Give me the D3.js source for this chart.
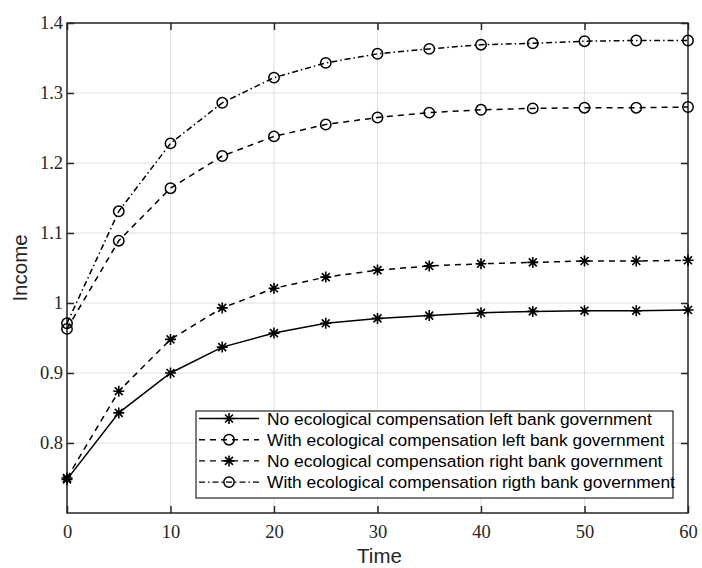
<!DOCTYPE html>
<html>
<head>
<meta charset="utf-8">
<script src="https://cdn.jsdelivr.net/npm/d3@7"></script>
<style>
  body { margin: 0; background: #fff; }
  .tick text { font-family: "Liberation Serif", "Times New Roman", serif; font-size: 18.5px; fill: #262626; }
</style>
</head>
<body>
<svg id="chart" width="702" height="568"></svg>
<script>
// time steps
const time = [0, 5, 10, 15, 20, 25, 30, 35, 40, 45, 50, 55, 60];

// income series
const noCompLeft = [0.748, 0.843, 0.900, 0.937, 0.957, 0.971, 0.978, 0.982, 0.986, 0.988, 0.989, 0.989, 0.990];
const withCompLeft = [0.963, 1.089, 1.164, 1.210, 1.238, 1.255, 1.265, 1.272, 1.276, 1.278, 1.279, 1.279, 1.280];
const noCompRight = [0.750, 0.874, 0.948, 0.993, 1.021, 1.037, 1.047, 1.053, 1.056, 1.058, 1.060, 1.060, 1.061];
const withCompRight = [0.971, 1.131, 1.228, 1.286, 1.322, 1.343, 1.356, 1.363, 1.369, 1.371, 1.374, 1.375, 1.375];

const seriesNames = [
  'No ecological compensation left bank government',
  'With ecological compensation left bank government',
  'No ecological compensation right bank government',
  'With ecological compensation rigth bank government'
];

const xTicks = [0, 10, 20, 30, 40, 50, 60];
const yTicks = [0.8, 0.9, 1.0, 1.1, 1.2, 1.3, 1.4];

const series = [
  { name: seriesNames[0], values: noCompLeft, dash: null, marker: 'star' },
  { name: seriesNames[1], values: withCompLeft, dash: '6,5', marker: 'circle' },
  { name: seriesNames[2], values: noCompRight, dash: '6,5', marker: 'star' },
  { name: seriesNames[3], values: withCompRight, dash: '6,3,1.5,3', marker: 'circle' }
];

const svg = d3.select('#chart');
const plotL = 67, plotR = 688, plotT = 23, plotB = 513;

const x = d3.scaleLinear().domain([0, 60]).range([plotL, plotR]);
const y = d3.scaleLinear().domain([0.7, 1.4]).range([plotB, plotT]);

// grid
const grid = svg.append('g');
grid.selectAll('.gx')
  .data(xTicks)
  .enter()
  .append('line')
  .attr('x1', d => x(d)).attr('x2', d => x(d))
  .attr('y1', plotT).attr('y2', plotB)
  .attr('stroke', '#dfdfdf').attr('stroke-width', 1);
grid.selectAll('.gy')
  .data(yTicks)
  .enter()
  .append('line')
  .attr('x1', plotL).attr('x2', plotR)
  .attr('y1', d => y(d)).attr('y2', d => y(d))
  .attr('stroke', '#dfdfdf').attr('stroke-width', 1);

// axes (MATLAB style, ticks inside, box on)
const fmt = d => d === 1 ? '1' : d3.format('.1f')(d);

svg.append('g')
  .attr('transform', `translate(0,${plotB})`)
  .call(d3.axisBottom(x).tickValues(xTicks).tickSize(-7).tickPadding(12).tickSizeOuter(0))
  .call(g => g.select('.domain').remove());
svg.append('g')
  .attr('transform', `translate(${plotL},0)`)
  .call(d3.axisLeft(y).tickValues(yTicks).tickFormat(fmt).tickSize(-7).tickPadding(4).tickSizeOuter(0))
  .call(g => g.select('.domain').remove());
svg.append('g')
  .attr('transform', `translate(0,${plotT})`)
  .call(d3.axisTop(x).tickValues(xTicks).tickSize(-7).tickFormat('').tickSizeOuter(0))
  .call(g => g.select('.domain').remove());
svg.append('g')
  .attr('transform', `translate(${plotR},0)`)
  .call(d3.axisRight(y).tickValues(yTicks).tickSize(-7).tickFormat('').tickSizeOuter(0))
  .call(g => g.select('.domain').remove());

svg.selectAll('.tick line').attr('stroke', '#262626').attr('stroke-width', 1.5);

svg.append('rect')
  .attr('x', plotL).attr('y', plotT)
  .attr('width', plotR - plotL).attr('height', plotB - plotT)
  .attr('fill', 'none').attr('stroke', '#262626').attr('stroke-width', 1.5);

// markers
function drawMarker(g, type, cx, cy) {
  if (type === 'circle') {
    g.append('circle')
      .attr('cx', cx).attr('cy', cy).attr('r', 5.2)
      .attr('fill', 'none').attr('stroke', '#000').attr('stroke-width', 1.5);
  } else {
    const r = 5.5, d = r * 0.72;
    const path = `M${cx - r},${cy}L${cx + r},${cy}M${cx},${cy - r}L${cx},${cy + r}` +
      `M${cx - d},${cy - d}L${cx + d},${cy + d}M${cx - d},${cy + d}L${cx + d},${cy - d}`;
    g.append('path').attr('d', path).attr('stroke', '#000').attr('stroke-width', 1.6);
  }
}

const line = d3.line().x((d, i) => x(time[i])).y(d => y(d));

series.forEach(s => {
  const g = svg.append('g');
  g.append('path')
    .attr('d', line(s.values))
    .attr('fill', 'none')
    .attr('stroke', '#000')
    .attr('stroke-width', 1.5)
    .attr('stroke-dasharray', s.dash);
  s.values.forEach((v, i) => drawMarker(g, s.marker, x(time[i]), y(v)));
});

// axis labels
svg.append('text')
  .attr('x', (plotL + plotR) / 2 + 2).attr('y', 563)
  .attr('text-anchor', 'middle')
  .attr('font-family', '"Liberation Sans", Arial, sans-serif')
  .attr('font-size', '20.5px').attr('fill', '#262626')
  .text('Time');
svg.append('text')
  .attr('transform', `translate(27,${(plotT + plotB) / 2}) rotate(-90)`)
  .attr('text-anchor', 'middle')
  .attr('font-family', '"Liberation Sans", Arial, sans-serif')
  .attr('font-size', '20.5px').attr('fill', '#262626')
  .text('Income');

// legend
const legend = svg.append('g').attr('class', 'legend');
legend.append('rect')
  .attr('x', 196).attr('y', 411)
  .attr('width', 477).attr('height', 87)
  .attr('fill', '#fff').attr('stroke', '#262626').attr('stroke-width', 1.2);

series.forEach((s, i) => {
  const cy = 418.5 + i * 21.2;
  const item = legend.append('g');
  item.append('line')
    .attr('x1', 199).attr('x2', 259)
    .attr('y1', cy).attr('y2', cy)
    .attr('stroke', '#000').attr('stroke-width', 1.4)
    .attr('stroke-dasharray', s.dash);
  drawMarker(item, s.marker, 229, cy);
  item.append('text')
    .attr('x', 267).attr('y', cy)
    .attr('dy', '0.35em')
    .attr('font-family', '"Liberation Sans", Arial, sans-serif')
    .attr('font-size', '17.4px').attr('fill', '#000')
    .text(s.name);
});
</script>
</body>
</html>
